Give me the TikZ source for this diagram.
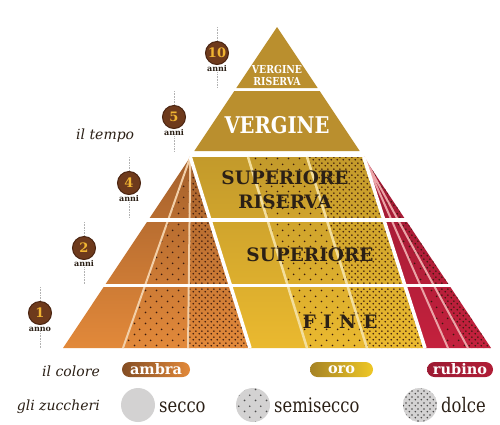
\documentclass[tikz,border=0pt]{standalone}
\usepackage{fontspec}
\setmainfont{DejaVu Serif}
\usetikzlibrary{patterns}

\definecolor{vergold}{HTML}{BA8F2E}
\definecolor{ambtop}{HTML}{A4602C}
\definecolor{ambbot}{HTML}{E2893A}
\definecolor{orotop}{HTML}{C39A2B}
\definecolor{orobot}{HTML}{EAB92F}
\definecolor{rubtop}{HTML}{9C1A33}
\definecolor{rubbot}{HTML}{C4213D}
\definecolor{dotcol}{HTML}{3B1A0E}
\definecolor{inkdark}{HTML}{2B2016}
\definecolor{ballbrown}{HTML}{6E3A1C}
\definecolor{ballrim}{HTML}{4A2411}
\definecolor{ballnum}{HTML}{F0B432}
\definecolor{sugargray}{HTML}{D3D2D2}
\definecolor{ambline}{HTML}{F2CFA8}
\definecolor{oroline}{HTML}{F3DE9C}
\definecolor{rubline}{HTML}{EBA3A6}

% sparse and dense dots for the sugar levels
\pgfdeclarepatternformonly{semidots}{\pgfqpoint{0pt}{0pt}}{\pgfqpoint{11pt}{11pt}}{\pgfqpoint{11pt}{11pt}}{%
  \pgfpathcircle{\pgfqpoint{2.75pt}{2.75pt}}{1pt}%
  \pgfpathcircle{\pgfqpoint{8.25pt}{8.25pt}}{1pt}%
  \pgfusepath{fill}}
\pgfdeclarepatternformonly{dolcedots}{\pgfqpoint{0pt}{0pt}}{\pgfqpoint{6pt}{6pt}}{\pgfqpoint{6pt}{6pt}}{%
  \pgfpathcircle{\pgfqpoint{1.5pt}{1.5pt}}{1pt}%
  \pgfpathcircle{\pgfqpoint{4.5pt}{4.5pt}}{1pt}%
  \pgfusepath{fill}}

\newcommand{\narrowtxt}[2][0.85]{\scalebox{#1}[1]{#2}}

\begin{document}
\begin{tikzpicture}[x=1pt, y=-1pt,
    yearball/.style={circle, fill=ballbrown, draw=ballrim, line width=1pt, minimum size=23pt, inner sep=0pt, text=ballnum, font=\bfseries\fontsize{13}{13}\selectfont},
    yearlbl/.style={inner sep=0pt, text=inkdark, font=\bfseries\fontsize{8}{8}\selectfont},
    tick/.style={gray!60, densely dotted, line width=0.6pt},
    tiertext/.style={inner sep=0pt, align=center, text=inkdark, font=\bfseries\fontsize{18.5}{24}\selectfont},
    uptext/.style={inner sep=0pt, align=center, text=white},
    semi/.style={pattern=semidots, pattern color=dotcol},
    dolce/.style={pattern=dolcedots, pattern color=dotcol},
    sidelbl/.style={inner sep=0pt, text=inkdark, font=\itshape\fontsize{14}{14}\selectfont},
    pill/.style={rounded corners=7.5pt, minimum width=#1, minimum height=15pt, inner sep=0pt, text=white, font=\bfseries\fontsize{14.5}{14.5}\selectfont},
    sugarball/.style={circle, fill=sugargray, minimum size=34pt, inner sep=0pt},
    sugartext/.style={inner sep=0pt, text=inkdark, font=\fontsize{20}{20}\selectfont}]
  \useasboundingbox (0,0) rectangle (500,424);

  % corners of the pyramid
  \coordinate (apex) at (277,27);
  \coordinate (A) at (190.3,157);
  \coordinate (R) at (363.7,157);
  \coordinate (g1) at (248,157);
  \coordinate (g2) at (307,157);
  \foreach \n/\x in {bL/63, b1/123, b2/188, b3/250, b4/307, b5/367, b6/425, b7/448, b8/468, bR/491}
    \coordinate (\n) at (\x,348);

  % vergine tiers
  \fill[vergold] (apex) -- (317.7,88) -- (236.3,88) -- cycle;
  \fill[vergold] (234.3,91) -- (319.7,91) -- (359.7,151) -- (194.3,151) -- cycle;

  % ambra, oro, rubino
  \shade[top color=ambtop, bottom color=ambbot] (A) -- (bL) -- (b3) -- cycle;
  \shade[top color=orotop, bottom color=orobot] (A) -- (R) -- (b6) -- (b3) -- cycle;
  \shade[top color=rubtop, bottom color=rubbot] (R) -- (b6) -- (bR) -- cycle;

  % semisecco and dolce
  \fill[semi] (A) -- (b1) -- (b2) -- cycle;
  \fill[dolce] (A) -- (b2) -- (b3) -- cycle;
  \fill[semi] (g1) -- (g2) -- (b5) -- (b4) -- cycle;
  \fill[dolce] (g2) -- (R) -- (b6) -- (b5) -- cycle;
  \fill[semi] (R) -- (b7) -- (b8) -- cycle;
  \fill[dolce] (R) -- (b8) -- (bR) -- cycle;

  \draw[ambline, line width=2pt] (A) -- (b1) (A) -- (b2);
  \draw[oroline, line width=2.5pt] (g1) -- (b4) (g2) -- (b5);
  \draw[rubline, line width=2pt] (R) -- (b7) (R) -- (b8);
  \draw[white, line width=3.5pt] (A) -- (b3) (R) -- (b6);

  \fill[white] (50,218) rectangle (495,222);
  \fill[white] (50,284) rectangle (495,287);

  % names of the tiers
  \node[uptext, font=\bfseries\fontsize{11}{11.5}\selectfont] (vergris) at (277,75.5) {\narrowtxt{VERGINE}\\\narrowtxt{RISERVA}};
  \node[uptext, font=\bfseries\fontsize{23}{23}\selectfont] (verg) at (277,125) {\narrowtxt{VERGINE}};
  \node[tiertext] (supris) at (285,190) {SUPERIORE\\RISERVA};
  \node[tiertext] (sup) at (310,255) {SUPERIORE};
  \node[tiertext] (fine) at (340,322) {F\hspace{0.4em}I\hspace{0.4em}N\hspace{0.4em}E};

  % il tempo
  \node[sidelbl, anchor=base west] (tempo) at (76,139) {il tempo};
  \foreach \k/\x/\yt/\yb/\num/\word in {10/217/27/88/10/anni, 5/174/91/151/5/anni, 4/129/157/218/4/anni, 2/84/222/284/2/anni, 1/40/287/348/1/anno} {
    \node[yearball] (m\k) at (\x,\yt+26) {\num};
    \node[yearlbl] (l\k) at (\x,\yt+42) {\word};
    \coordinate (m\k top) at (\x,\yt);
    \coordinate (m\k bot) at (\x,\yb);
    \draw[tick] (m\k top) -- (m\k);
    \draw[tick] (l\k) -- (m\k bot);
  }

  % il colore
  \node[sidelbl, anchor=base east] (colore) at (100,376) {il colore};
  \node[pill=68pt, left color=ambtop!80!black, right color=ambbot] (ambra) at (156,369.5) {ambra};
  \node[pill=63pt, left color=orotop!85!black, right color=orobot!80!yellow] (oro) at (341.5,369.5) {oro};
  \node[pill=66pt, left color=rubtop, right color=rubbot!90!black] (rubino) at (460,369.5) {rubino};

  % gli zuccheri
  \node[sidelbl, anchor=base east] (zuccheri) at (100,410) {gli zuccheri};
  \node[sugarball] (secco) at (138,405) {};
  \node[sugartext, anchor=base west] (seccotxt) at (159,412) {\narrowtxt[0.82]{secco}};
  \node[sugarball, postaction={pattern=semidots, pattern color=gray!60!black}] (semisecco) at (253,405) {};
  \node[sugartext, anchor=base west] (semiseccotxt) at (274,412) {\narrowtxt[0.82]{semisecco}};
  \node[sugarball, postaction={pattern=dolcedots, pattern color=gray!60!black}] (dolcelgd) at (420,405) {};
  \node[sugartext, anchor=base west] (dolcetxt) at (441,412) {\narrowtxt[0.82]{dolce}};
\end{tikzpicture}
\end{document}
